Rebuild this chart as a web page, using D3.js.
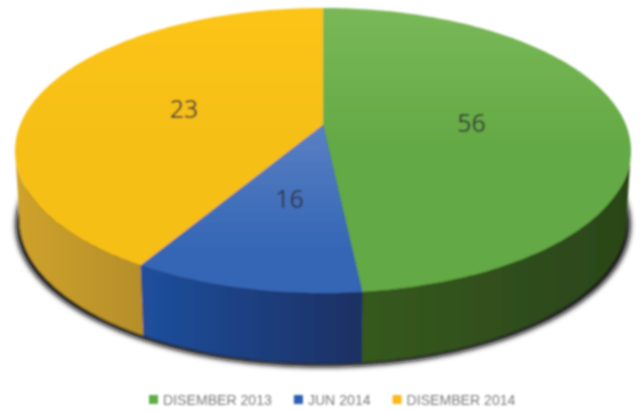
<!DOCTYPE html>
<html><head><meta charset="utf-8">
<script src="https://cdn.jsdelivr.net/npm/d3@7"></script>
<style>html,body{margin:0;padding:0;background:#fff}svg{display:block}</style>
</head><body><svg id="c" width="640" height="412"></svg>
<script>
const categories = ["DISEMBER 2013", "JUN 2014", "DISEMBER 2014"];
const labelValues = [56, 16, 23];
// visual share of each slice as drawn in the picture (%)
const drawnShares = [48.3, 10.2, 41.5];
const topColors = [["#7ab858", "#63a944"], ["#5a80c4", "#3466b5"], ["#fcc414", "#f6bf17"]];
const sideColors = [["#36591f", "#2b4519"], ["#204f9d", "#1c3063"], ["#cfa22c", "#b58f2b"]];
const legendColors = ["#5fae45", "#2f5fb3", "#fbb81c"];

const svg = d3.select("#c");
const cx = 323, cy = 125, a = 138, b = 303, k = 0.179, depth = 70, shrink = 0.985;
const project = (t, r = 1) => {
  const u = r * Math.sin(t), v = r * Math.cos(t), w = 1 + k * v;
  return [cx + b * u / w, cy - a * v / w];
};
const lower = ([x, y]) => [cx + (x - cx) * shrink, y + depth];
const arcs = d3.pie().sort(null)(drawnShares);
const line = d3.line();
const step = Math.PI / 180;
const angles = (s, e) => { const n = Math.max(2, Math.ceil((e - s) / step)); return d3.range(n + 1).map(i => s + (e - s) * i / n); };

const defs = svg.append("defs");
const soft = defs.append("filter").attr("id", "soft").attr("x", "-5%").attr("y", "-5%").attr("width", "110%").attr("height", "110%");
soft.append("feGaussianBlur").attr("stdDeviation", 0.85);
const shade = defs.append("filter").attr("id", "shade").attr("x", "-10%").attr("y", "-10%").attr("width", "120%").attr("height", "120%");
shade.append("feGaussianBlur").attr("stdDeviation", 2.6);
const grad = (id, cols, x1, y1, x2, y2) => {
  const g = defs.append("linearGradient").attr("id", id).attr("gradientUnits", "userSpaceOnUse")
    .attr("x1", x1).attr("y1", y1).attr("x2", x2).attr("y2", y2);
  g.append("stop").attr("offset", 0).attr("stop-color", cols[0]);
  g.append("stop").attr("offset", 1).attr("stop-color", cols[1]);
};
const [rightEdge, leftEdge] = [Math.acos(-k), 2 * Math.PI - Math.acos(-k)];
arcs.forEach((d, i) => {
  const s = Math.max(d.startAngle, rightEdge), e = Math.min(d.endAngle, leftEdge);
  grad("top" + i, topColors[i], 0, i === 1 ? cy : 8, 0, i === 1 ? 250 : 150);
  const x0 = project(e)[0], x1 = project(s)[0];
  grad("side" + i, sideColors[i], Math.min(x0, x1), 0, Math.max(x0, x1), 0);
});

const g = svg.append("g").attr("filter", "url(#soft)");
const full = angles(0, 2 * Math.PI).map(t => project(t));
g.append("path").attr("d", line(full.map(p => [cx + (p[0] - cx) * 0.998, p[1] + depth + 4])) + "Z")
  .attr("fill", "#111").attr("filter", "url(#shade)");

g.selectAll("path.side").data(arcs).join("path").attr("class", "side")
  .attr("fill", (d, i) => `url(#side${i})`)
  .attr("d", d => {
    const s = Math.max(d.startAngle, rightEdge), e = Math.min(d.endAngle, leftEdge);
    const up = angles(s, e).map(t => project(t));
    return line(up.concat(up.slice().reverse().map(lower))) + "Z";
  });

g.selectAll("path.top").data(arcs).join("path").attr("class", "top")
  .attr("fill", (d, i) => `url(#top${i})`)
  .attr("d", d => line([[cx, cy]].concat(angles(d.startAngle, d.endAngle).map(t => project(t)))) + "Z");

g.selectAll("text.val").data(arcs).join("text").attr("class", "val")
  .attr("transform", d => `translate(${project((d.startAngle + d.endAngle) / 2, 0.49)})`)
  .attr("text-anchor", "middle").attr("dx", 1).attr("dy", "0.42em")
  .attr("font-family", "'Open Sans', sans-serif").attr("font-size", 25).attr("fill", "#2f3234")
  .text((d, i) => labelValues[i]);

const lg = g.append("g").attr("font-family", "'Liberation Sans', Arial, sans-serif").attr("font-size", 14.1).attr("fill", "#7b7b7b");
let x = 149;
categories.forEach((c, i) => {
  lg.append("rect").attr("x", x).attr("y", 395).attr("width", 9).attr("height", 9).attr("fill", legendColors[i]);
  const t = lg.append("text").attr("x", x + 14).attr("y", 405).text(c);
  x += 14 + t.node().getComputedTextLength() + 22;
});
</script></body></html>
